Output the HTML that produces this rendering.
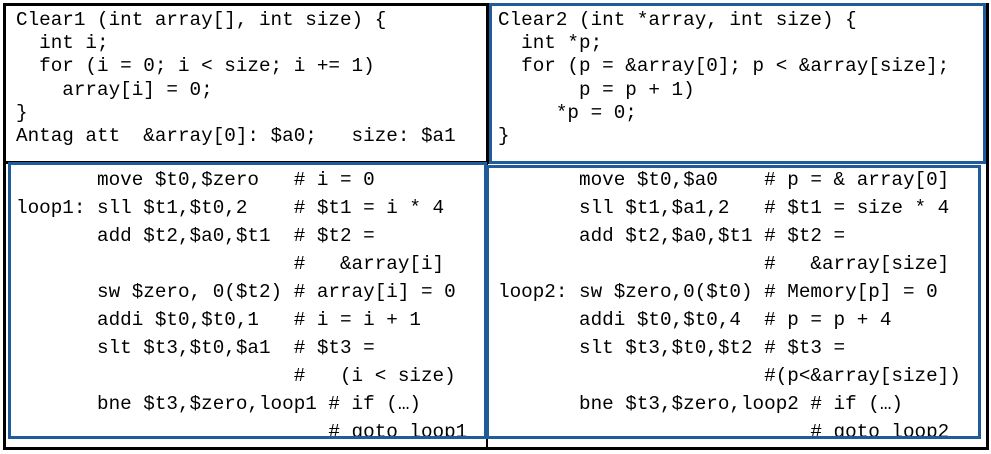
<!DOCTYPE html>
<html><head><style>
body{margin:0;background:#fff;width:991px;height:454px;position:relative;overflow:hidden}
.b{position:absolute;box-sizing:border-box}
pre{position:absolute;margin:0;font-family:"Liberation Mono",monospace;font-size:19.3px;color:#000;white-space:pre}
</style></head><body>
<div class="b" style="left:3px;top:3px;width:986px;height:447px;border:3px solid #000"></div>
<div class="b" style="left:3px;top:3px;width:486px;height:161px;border:3px solid #000"></div>
<div class="b" style="left:486px;top:3px;width:2px;height:447px;background:#000"></div>
<div class="b" style="left:489px;top:3px;width:497px;height:161px;border:3px solid #1f5c99"></div>
<div class="b" style="left:8px;top:162px;width:479px;height:277px;border:3px solid #1f5c99"></div>
<div class="b" style="left:486px;top:165px;width:495px;height:274px;border:3px solid #1f5c99"></div>
<pre style="left:16px;top:9px;line-height:23.2px">Clear1 (int array[], int size) {
  int i;
  for (i = 0; i &lt; size; i += 1)
    array[i] = 0;
}
Antag att  &amp;array[0]: $a0;   size: $a1</pre>
<pre style="left:498px;top:9px;line-height:23.2px">Clear2 (int *array, int size) {
  int *p;
  for (p = &amp;array[0]; p &lt; &amp;array[size];
       p = p + 1)
     *p = 0;
}</pre>
<div class="b" style="left:11px;top:165px;width:473px;height:271px;overflow:hidden">
<pre style="left:5px;top:1px;line-height:28px">       move $t0,$zero   # i = 0
loop1: sll $t1,$t0,2    # $t1 = i * 4
       add $t2,$a0,$t1  # $t2 =
                        #   &amp;array[i]
       sw $zero, 0($t2) # array[i] = 0
       addi $t0,$t0,1   # i = i + 1
       slt $t3,$t0,$a1  # $t3 =
                        #   (i &lt; size)
       bne $t3,$zero,loop1 # if (…)
                           # goto loop1</pre></div>
<div class="b" style="left:489px;top:168px;width:489px;height:268px;overflow:hidden">
<pre style="left:9px;top:-2px;line-height:28px">       move $t0,$a0    # p = &amp; array[0]
       sll $t1,$a1,2   # $t1 = size * 4
       add $t2,$a0,$t1 # $t2 =
                       #   &amp;array[size]
loop2: sw $zero,0($t0) # Memory[p] = 0
       addi $t0,$t0,4  # p = p + 4
       slt $t3,$t0,$t2 # $t3 =
                       #(p&lt;&amp;array[size])
       bne $t3,$zero,loop2 # if (…)
                           # goto loop2</pre></div>
</body></html>
